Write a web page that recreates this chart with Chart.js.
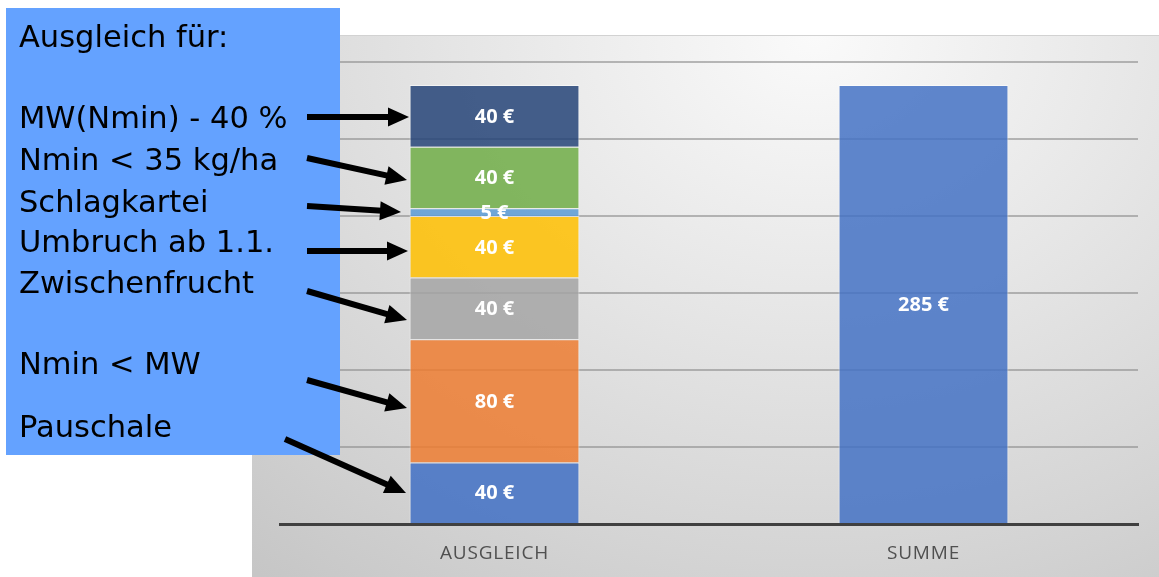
<!DOCTYPE html>
<html>
<head>
<meta charset="utf-8">
<script src="https://cdn.jsdelivr.net/npm/chart.js@4.4.1/dist/chart.umd.min.js"></script>
<style>
  html, body { margin: 0; padding: 0; background: #ffffff; }
  body { width: 1159px; height: 577px; position: relative; overflow: hidden; }
  #chart-bg {
    position: absolute; left: 252px; top: 35px; width: 907px; height: 542px;
    border-top: 1px solid #d2d2d2; box-sizing: border-box;
    background: radial-gradient(ellipse 95% 130% at 62% 0%, #fafafa 0%, #e6e6e6 40%, #d4d4d4 75%, #c6c6c6 100%);
  }
  #chart-bg canvas { position: absolute; left: 0; top: -1px; }
  #note {
    position: absolute; left: 6px; top: 8px; width: 334px; height: 447px;
    background: #64a2ff;
  }
  #overlay { position: absolute; left: 0; top: 0; }
</style>
</head>
<body>
<div id="chart-bg"><canvas id="cost-chart" width="907" height="542"></canvas></div>
<div id="note"></div>
<svg id="overlay" width="1159" height="577"></svg>

<script>
const mainCanvas = document.getElementById('cost-chart');
const overlay = document.getElementById('overlay');

// chart data
const categories = ['AUSGLEICH', 'SUMME'];
const pauschale = [40, null];
const nminUnterMw = [80, null];
const zwischenfrucht = [40, null];
const umbruch = [40, null];
const schlagkartei = [5, null];
const nminUnter35 = [40, null];
const mwMinus40 = [40, null];
const summe = [null, 285];

// text in the blue box
const noteLines = ['Ausgleich für:', 'MW(Nmin) - 40 %', 'Nmin < 35 kg/ha', 'Schlagkartei',
    'Umbruch ab 1.1.', 'Zwischenfrucht', 'Nmin < MW', 'Pauschale'];
const noteBaselines = [47, 128, 170, 212, 252, 293, 374, 437];

// arrows: [startX, startY, tipX, tipY]
const arrows = [
    [307, 117, 409, 117],
    [307, 158, 407, 180],
    [307, 206, 401, 212],
    [307, 251, 408, 251],
    [307, 291, 407, 320],
    [307, 380, 407, 408],
    [285, 439, 406, 493]
];

function makeSet(label, data, color) {
    return {
        label: label,
        data: data,
        backgroundColor: color,
        borderColor: 'rgba(255,255,255,0.55)',
        borderWidth: 1,
        stack: 's'
    };
}

const costData = {
    labels: categories,
    datasets: [
        makeSet('Pauschale', pauschale, 'rgba(68,114,196,0.87)'),
        makeSet('Nmin < MW', nminUnterMw, 'rgba(237,125,49,0.85)'),
        makeSet('Zwischenfrucht', zwischenfrucht, 'rgba(165,165,165,0.85)'),
        makeSet('Umbruch ab 1.1.', umbruch, 'rgba(255,192,0,0.85)'),
        makeSet('Schlagkartei', schlagkartei, 'rgba(91,155,213,0.85)'),
        makeSet('Nmin < 35 kg/ha', nminUnter35, 'rgba(112,173,71,0.85)'),
        makeSet('MW(Nmin) - 40 %', mwMinus40, 'rgba(38,68,120,0.85)'),
        makeSet('Summe', summe, 'rgba(68,114,196,0.85)')
    ]
};

// white value labels in the middle of each segment
const valueLabels = {
    id: 'valueLabels',
    afterDatasetsDraw(chart) {
        const ctx = chart.ctx;
        ctx.save();
        ctx.font = 'bold 20px "Open Sans"';
        ctx.fillStyle = '#ffffff';
        ctx.textAlign = 'center';
        ctx.textBaseline = 'middle';
        chart.data.datasets.forEach((ds, i) => {
            const meta = chart.getDatasetMeta(i);
            meta.data.forEach((bar, j) => {
                const v = ds.data[j];
                if (v === null) return;
                const p = bar.getProps(['x', 'y', 'base'], true);
                ctx.fillText(v + ' €', p.x, (p.y + p.base) / 2 + 1);
            });
        });
        ctx.restore();
    }
};

// slight letter spacing for the category labels
const spacing = {
    id: 'spacing',
    beforeDraw(chart) { chart.ctx.letterSpacing = '0.8px'; },
    beforeDatasetsDraw(chart) { chart.ctx.letterSpacing = '0px'; }
};

const costOptions = {
    responsive: false,
    animation: { duration: 0 },
    layout: { padding: { top: 27, left: 28, right: 21, bottom: 0 } },
    datasets: { bar: { categoryPercentage: 1, barPercentage: 0.396 } },
    scales: {
        x: {
            stacked: true,
            grid: { display: false },
            border: { display: true, color: '#404040', width: 3 },
            ticks: {
                color: '#505050',
                font: { family: 'Open Sans', size: 19 },
                padding: 10
            },
            afterFit: (scale) => { scale.height = 53; }
        },
        y: {
            stacked: true,
            min: 0,
            max: 300,
            ticks: { display: false, stepSize: 50 },
            border: { display: false },
            grid: {
                drawTicks: false,
                lineWidth: 2,
                color: (c) => c.tick && c.tick.value === 0 ? 'rgba(0,0,0,0)' : 'rgba(140,140,140,0.6)'
            },
            afterFit: (scale) => { scale.width = 0; }
        }
    },
    plugins: {
        legend: { display: false },
        tooltip: { enabled: false }
    }
};

let costChart = new Chart(mainCanvas, {
    type: 'bar',
    data: costData,
    options: costOptions,
    plugins: [spacing, valueLabels]
});

// note text and arrows
const svgNS = 'http://www.w3.org/2000/svg';
for (let i = 0; i < noteLines.length; i++) {
    const t = document.createElementNS(svgNS, 'text');
    t.setAttribute('x', 19);
    t.setAttribute('y', noteBaselines[i]);
    t.setAttribute('font-family', 'DejaVu Sans');
    t.setAttribute('font-size', '30.5');
    t.setAttribute('fill', '#000000');
    t.textContent = noteLines[i];
    overlay.appendChild(t);
}

function drawArrow(a) {
    const [x1, y1, x2, y2] = a;
    const len = Math.hypot(x2 - x1, y2 - y1);
    const ux = (x2 - x1) / len, uy = (y2 - y1) / len;
    const headLen = 21, headHalf = 9.5;
    const bx = x2 - ux * headLen, by = y2 - uy * headLen;
    const line = document.createElementNS(svgNS, 'line');
    line.setAttribute('x1', x1);
    line.setAttribute('y1', y1);
    line.setAttribute('x2', bx + ux * 2);
    line.setAttribute('y2', by + uy * 2);
    line.setAttribute('stroke', '#000');
    line.setAttribute('stroke-width', 6);
    overlay.appendChild(line);
    const head = document.createElementNS(svgNS, 'polygon');
    const pts = [[x2, y2], [bx - uy * headHalf, by + ux * headHalf], [bx + uy * headHalf, by - ux * headHalf]];
    head.setAttribute('points', pts.map(p => p.join(',')).join(' '));
    head.setAttribute('fill', '#000');
    overlay.appendChild(head);
}
arrows.forEach(drawArrow);
</script>
</body>
</html>
